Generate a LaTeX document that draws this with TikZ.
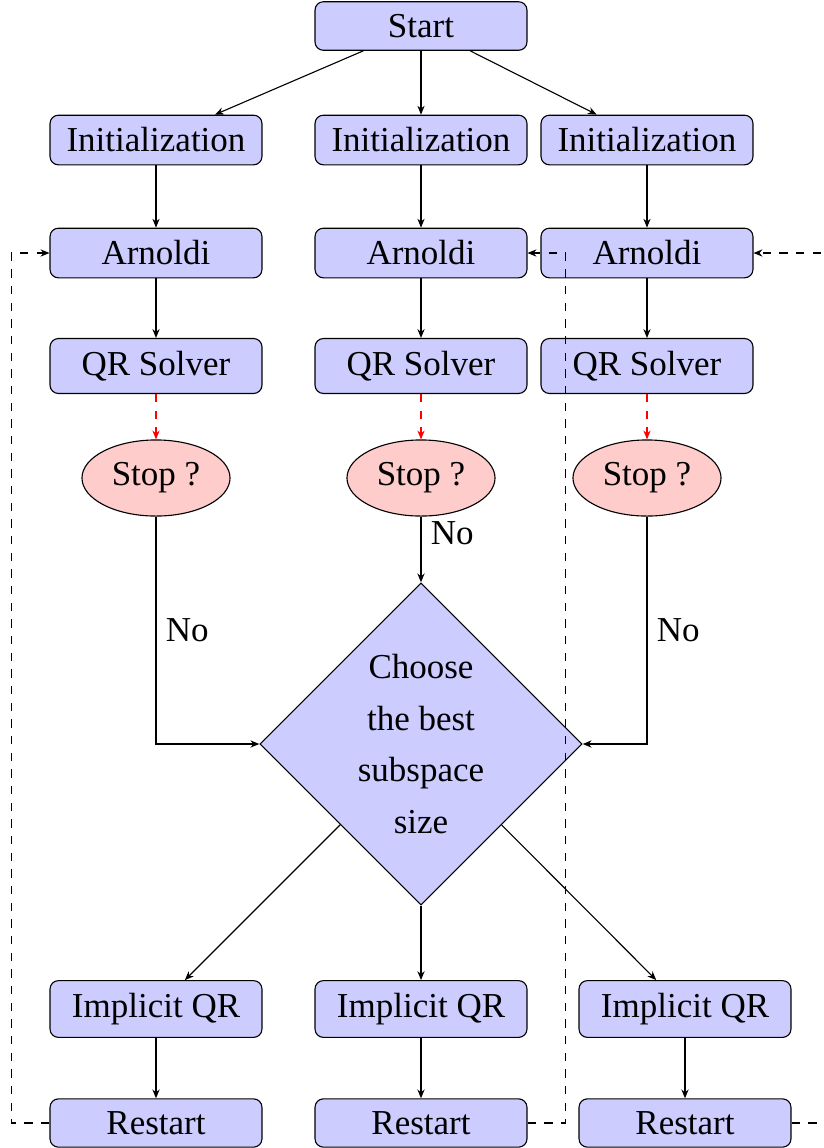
\documentclass[tikz,border=0pt]{standalone}
\usepackage{fontspec}
\setmainfont{Liberation Serif}
\usetikzlibrary{shapes.geometric,arrows.meta}
\begin{document}
\begin{tikzpicture}[x=0.36pt,y=-0.36pt,
  font=\fontsize{12.6}{14.5}\selectfont,
  box/.style={draw=black, fill=blue!20, rounded corners=3pt, minimum width=76.3pt, inner xsep=2pt, inner ysep=4.5pt},
  stopnode/.style={draw=black, fill=red!20, ellipse, minimum width=53.3pt, minimum height=27.4pt, inner sep=0pt},
  choice/.style={draw=black, fill=blue!20, diamond, aspect=1, minimum width=116pt, minimum height=116pt, inner sep=0pt, align=center, font=\fontsize{12.6}{18.7}\selectfont},
  arr/.style={-{Stealth[length=3.2pt,width=2.6pt]}},
  back/.style={arr, dashed},
  reddash/.style={arr, dashed, red}]
\useasboundingbox (0,0) rectangle (824,1148);
% nodes
\node[box] (start) at (421,26) {Start};
\node[box] (init1) at (156,140) {Initialization};
\node[box] (init2) at (421,140) {Initialization};
\node[box] (init3) at (647,140) {Initialization};
\node[box] (arn1) at (156,253) {Arnoldi};
\node[box] (arn2) at (421,253) {Arnoldi};
\node[box] (arn3) at (647,253) {Arnoldi};
\node[box] (qr1) at (156,366) {QR Solver};
\node[box] (qr2) at (421,366) {QR Solver};
\node[box] (qr3) at (647,366) {QR Solver};
\node[stopnode] (stop1) at (156,478) {Stop ?};
\node[stopnode] (stop2) at (421,478) {Stop ?};
\node[stopnode] (stop3) at (647,478) {Stop ?};
\node[choice] (choose) at (421,744) {Choose\\the best\\subspace\\size};
\node[box] (imp1) at (156,1009) {Implicit QR};
\node[box] (imp2) at (421,1009) {Implicit QR};
\node[box] (imp3) at (685,1009) {Implicit QR};
\node[box] (res1) at (156,1123) {Restart};
\node[box] (res2) at (421,1123) {Restart};
\node[box] (res3) at (685,1123) {Restart};
% connectors
\draw[arr] (start) -- (init1);
\draw[arr] (start) -- (init2);
\draw[arr] (start) -- (init3);
\draw[arr] (init1) -- (arn1);
\draw[arr] (init2) -- (arn2);
\draw[arr] (init3) -- (arn3);
\draw[arr] (arn1) -- (qr1);
\draw[arr] (arn2) -- (qr2);
\draw[arr] (arn3) -- (qr3);
\draw[reddash] (qr1) -- (stop1);
\draw[reddash] (qr2) -- (stop2);
\draw[reddash] (qr3) -- (stop3);
\draw[arr] (stop1) |- node[pos=0.25,right] {No} (choose);
\draw[arr] (stop2) -- node[pos=0.25,right] {No} (choose);
\draw[arr] (stop3) |- node[pos=0.25,right] {No} (choose);
\draw[arr] (choose) -- (imp1);
\draw[arr] (choose) -- (imp2);
\draw[arr] (choose) -- (imp3);
\draw[arr] (imp1) -- (res1);
\draw[arr] (imp2) -- (res2);
\draw[arr] (imp3) -- (res3);
\draw[back] (res1.west) -- ++(-38,0) |- (arn1.west);
\draw[back] (res2.east) -- ++(38,0) |- (arn2.east);
\draw[back] (res3.east) -- ++(38,0) |- (arn3.east);
\end{tikzpicture}
\end{document}
